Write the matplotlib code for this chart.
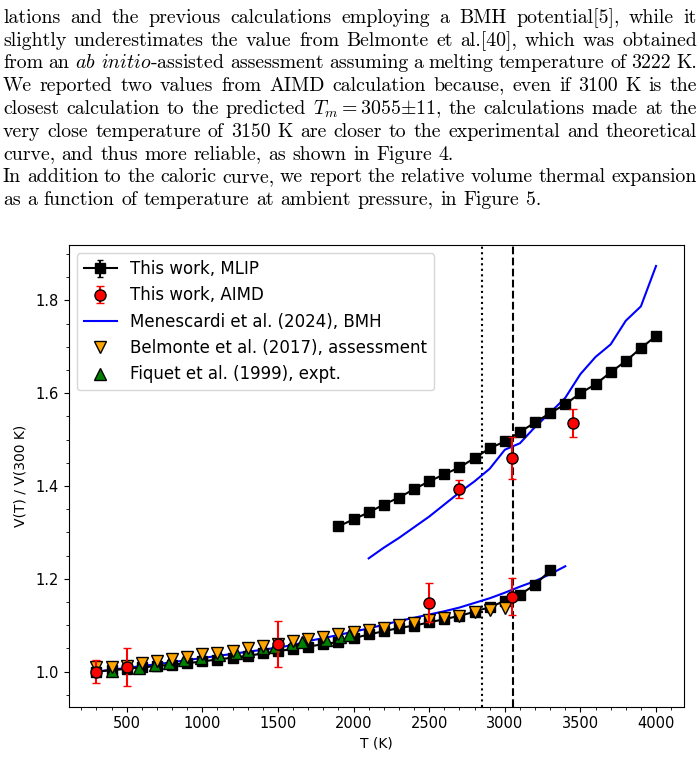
import matplotlib
matplotlib.use("Agg")
import matplotlib.pyplot as plt

plt.rcParams['mathtext.fontset'] = 'cm'

# ---- data ----
t_liq = [1900, 2000, 2100, 2200, 2300, 2400, 2500, 2600, 2700, 2800, 2900,
         3000, 3100, 3200, 3300, 3400, 3500, 3600, 3700, 3800, 3900, 4000]
v_liq = [1.313, 1.328, 1.343, 1.360, 1.375, 1.393, 1.410, 1.425, 1.440, 1.460,
         1.481, 1.496, 1.516, 1.537, 1.557, 1.576, 1.600, 1.619, 1.645, 1.669,
         1.697, 1.723]
e_liq = [0.004] * len(t_liq)

t_sol = list(range(300, 3400, 100))
v_sol = [1.000, 1.003, 1.006, 1.009, 1.012, 1.015, 1.018, 1.022, 1.026, 1.030,
         1.034, 1.039, 1.044, 1.049, 1.054, 1.059, 1.064, 1.072, 1.080, 1.087,
         1.094, 1.099, 1.106, 1.113, 1.120, 1.129, 1.139, 1.152, 1.166, 1.187,
         1.218]
e_sol = [0.003] * len(t_sol)

t_aimd = [300, 500, 1500, 2500, 3050, 2700, 3050, 3450]
v_aimd = [1.000, 1.010, 1.060, 1.148, 1.161, 1.393, 1.461, 1.535]
e_aimd = [0.025, 0.040, 0.050, 0.042, 0.040, 0.020, 0.045, 0.030]

t_bmh_liq = [2100, 2200, 2300, 2400, 2500, 2600, 2700, 2800, 2900, 3000,
             3100, 3200, 3300, 3400, 3500, 3600, 3700, 3800, 3900, 4000]
v_bmh_liq = [1.244, 1.267, 1.288, 1.311, 1.334, 1.360, 1.386, 1.410, 1.437,
             1.478, 1.492, 1.527, 1.558, 1.590, 1.641, 1.678, 1.705, 1.756,
             1.787, 1.874]

t_bmh_sol = list(range(300, 3500, 100))
v_bmh_sol = [1.000, 1.004, 1.008, 1.012, 1.016, 1.020, 1.025, 1.029, 1.034,
             1.038, 1.043, 1.047, 1.052, 1.057, 1.066, 1.072, 1.079, 1.086,
             1.093, 1.101, 1.109, 1.116, 1.123, 1.130, 1.138, 1.148, 1.158,
             1.170, 1.183, 1.195, 1.210, 1.227]

t_belm = list(range(300, 3100, 100))
v_belm = [1.009, 1.010, 1.013, 1.018, 1.023, 1.028, 1.032, 1.037, 1.041, 1.045,
          1.050, 1.055, 1.060, 1.066, 1.070, 1.075, 1.080, 1.085, 1.090, 1.095,
          1.100, 1.105, 1.111, 1.115, 1.120, 1.128, 1.133, 1.137]

t_fiq = [400, 580, 690, 780, 880, 990, 1110, 1220, 1300, 1400, 1480, 1590,
         1660, 1820, 1910, 1970]
v_fiq = [1.001, 1.008, 1.014, 1.019, 1.025, 1.030, 1.036, 1.041, 1.045, 1.050,
         1.054, 1.059, 1.063, 1.069, 1.074, 1.079]

t_dotted = 2850
t_melt = 3055

lines = [
    ("lations and the previous calculations employing a BMH potential[5], while it", True),
    ("slightly underestimates the value from Belmonte et al.[40], which was obtained", True),
    (r"from an $\mathit{ab}$ $\mathit{initio}$-assisted assessment assuming a melting temperature of 3222 K.", True),
    ("We reported two values from AIMD calculation because, even if 3100 K is the", True),
    (r"closest calculation to the predicted $T_m=3055{\pm}11$, the calculations made at the", True),
    ("very close temperature of 3150 K are closer to the experimental and theoretical", True),
    ("curve, and thus more reliable, as shown in Figure 4.", False),
    ("In addition to the caloric curve, we report the relative volume thermal expansion", True),
    ("as a function of temperature at ambient pressure, in Figure 5.", False),
]

W, H = 700, 781
fig = plt.figure(figsize=(W / 100, H / 100), dpi=100)
renderer = fig.canvas.get_renderer()

# ---- justified paragraph text ----
x_left, x_right = 3, 697
base0, step = 23, 22.75
fs = 14.3
for i, (line, justify) in enumerate(lines):
    yb = 1 - (base0 + i * step) / H
    words = line.split(" ")
    arts = [fig.text(0, yb, w, fontsize=fs, family='cmr10', va='baseline')
            for w in words]
    widths = [a.get_window_extent(renderer).width for a in arts]
    if justify and len(words) > 1:
        gap = (x_right - x_left - sum(widths)) / (len(words) - 1)
    else:
        gap = fs * 100 / 72 * 0.333
    x = x_left
    for a, w in zip(arts, widths):
        a.set_x(x / W)
        x += w + gap

# ---- chart ----
ax = fig.add_axes([68.5 / W, 1 - 706.5 / H, (684 - 68.5) / W, (706.5 - 245) / H])

h_mlip = ax.errorbar(t_liq, v_liq, yerr=e_liq, color='black', marker='s',
                     markersize=7, capsize=2, lw=1.5, zorder=3)
ax.errorbar(t_sol, v_sol, yerr=e_sol, color='black', marker='s',
            markersize=7, capsize=2, lw=1.5, zorder=3)
h_bmh, = ax.plot(t_bmh_liq, v_bmh_liq, color='blue', lw=1.5, zorder=2)
ax.plot(t_bmh_sol, v_bmh_sol, color='blue', lw=1.5, zorder=2)
h_fiq, = ax.plot(t_fiq, v_fiq, ls='none', marker='^', markersize=8,
                 color='green', markeredgecolor='black', zorder=4)
h_belm, = ax.plot(t_belm, v_belm, ls='none', marker='v', markersize=8,
                  color='orange', markeredgecolor='black', zorder=5)
h_aimd = ax.errorbar(t_aimd, v_aimd, yerr=e_aimd, ls='none', marker='o',
                     markersize=8, color='red', markeredgecolor='black',
                     ecolor='red', capsize=3, zorder=6)

ax.axvline(t_dotted, color='black', ls=':', lw=1.5, zorder=1)
ax.axvline(t_melt, color='black', ls='--', lw=1.5, zorder=1)

ax.set_xlabel("T (K)")
ax.set_ylabel("V(T) / V(300 K)", labelpad=6)
ax.set_yticks([1.0, 1.2, 1.4, 1.6, 1.8])
ax.minorticks_on()
ax.tick_params(labelsize=10.5)

ax.legend([h_mlip, h_aimd, h_bmh, h_belm, h_fiq],
          ["This work, MLIP", "This work, AIMD", "Menescardi et al. (2024), BMH",
           "Belmonte et al. (2017), assessment", "Fiquet et al. (1999), expt."],
          loc='upper left', fontsize=12)

fig.savefig("out.png", dpi=100)
